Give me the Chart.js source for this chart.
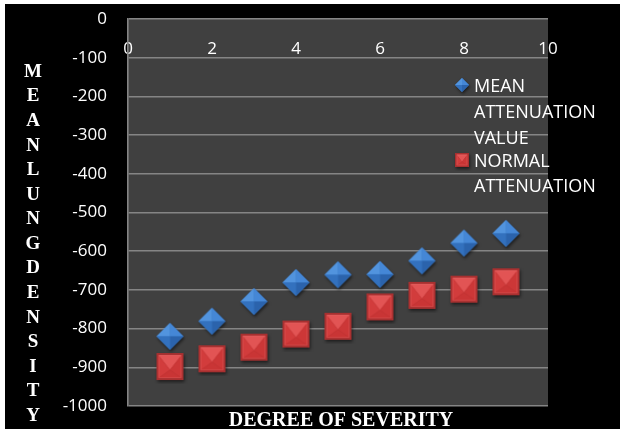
<!DOCTYPE html>
<html>
<head>
<meta charset="utf-8">
<script src="https://cdn.jsdelivr.net/npm/chart.js@4/dist/chart.umd.min.js"></script>
<style>
  html, body { margin: 0; padding: 0; background: #ffffff; }
  #wrap { position: absolute; left: 5px; top: 4px; width: 615px; height: 425px; background: #000000; }
  canvas { display: block; }
</style>
</head>
<body>
<div id="wrap"><canvas id="c" width="615" height="425"></canvas></div>
<script>
// Degree of severity (x) against mean lung density (HU)
const severity = [1, 2, 3, 4, 5, 6, 7, 8, 9];
const meanAttenuation = [-820, -781, -730, -681, -661, -660, -625, -579, -554];
const normalAttenuation = [-898, -878, -848, -814, -794, -744, -714, -698, -679];
const meanLabel = ['MEAN', 'ATTENUATION', 'VALUE'];
const normalLabel = ['NORMAL', 'ATTENUATION'];
const yTitle = 'MEANLUNGDENSITY';
const xTitle = 'DEGREE OF SEVERITY';

// Bevelled marker sprites
function diamondSprite(size) {
  const pad = 4, W = size + pad * 2;
  const cv = document.createElement('canvas');
  cv.width = W; cv.height = W;
  const g = cv.getContext('2d');
  const c = W / 2, r = size / 2;
  g.save();
  g.shadowColor = 'rgba(0,0,0,0.55)';
  g.shadowBlur = 3; g.shadowOffsetX = 1; g.shadowOffsetY = 2;
  g.beginPath();
  g.moveTo(c, c - r); g.lineTo(c + r, c); g.lineTo(c, c + r); g.lineTo(c - r, c); g.closePath();
  g.fillStyle = '#3b78c2'; g.fill();
  g.restore();
  const facets = [
    [[c, c - r], [c - r, c], '#5294de'],
    [[c, c - r], [c + r, c], '#4587d6'],
    [[c - r, c], [c, c + r], '#3371be'],
    [[c + r, c], [c, c + r], '#2b63ac']
  ];
  facets.forEach(([a, b, col]) => {
    g.beginPath(); g.moveTo(c, c); g.lineTo(a[0], a[1]); g.lineTo(b[0], b[1]); g.closePath();
    g.fillStyle = col; g.fill();
  });
  return cv;
}

function squareSprite(size) {
  const pad = 4, W = size + pad * 2;
  const cv = document.createElement('canvas');
  cv.width = W; cv.height = W;
  const g = cv.getContext('2d');
  const x0 = pad, y0 = pad, x1 = pad + size, y1 = pad + size, c = W / 2;
  g.save();
  g.shadowColor = 'rgba(0,0,0,0.55)';
  g.shadowBlur = 3; g.shadowOffsetX = 1; g.shadowOffsetY = 2;
  g.fillStyle = '#a83030';
  g.fillRect(x0, y0, size, size);
  g.restore();
  const b = Math.max(1.5, size * 0.07);
  const ix0 = x0 + b, iy0 = y0 + b, ix1 = x1 - b, iy1 = y1 - b;
  const apexY = c + size * 0.12;
  const facets = [
    [[ix0, iy0], [ix1, iy0], '#e25454'],
    [[ix0, iy0], [ix0, iy1], '#d23c3c'],
    [[ix1, iy0], [ix1, iy1], '#cc3737'],
    [[ix0, iy1], [ix1, iy1], '#c93535']
  ];
  facets.forEach(([a, bb, col]) => {
    g.beginPath(); g.moveTo(c, apexY); g.lineTo(a[0], a[1]); g.lineTo(bb[0], bb[1]); g.closePath();
    g.fillStyle = col; g.fill();
  });
  g.strokeStyle = 'rgba(230,110,110,0.35)';
  g.lineWidth = 1;
  g.strokeRect(ix0 + 0.5, iy0 + 0.5, size - 2 * b - 1, size - 2 * b - 1);
  return cv;
}

const blueMark = diamondSprite(27);
const redMark = squareSprite(27);
const blueSmall = diamondSprite(14);
const redSmall = squareSprite(14);

const pts = (ys) => severity.map((x, i) => ({ x, y: ys[i] }));

// Titles and the multi-line legend
const decorations = {
  id: 'decorations',
  afterDraw(chart) {
    const ctx = chart.ctx;
    const area = chart.chartArea;
    ctx.save();
    ctx.fillStyle = '#ffffff';
    ctx.textAlign = 'center';
    ctx.textBaseline = 'middle';
    ctx.font = 'bold 19px "Liberation Serif", "Times New Roman", serif';
    const letters = yTitle.split('');
    const top = 68, step = 24.57;
    letters.forEach((ch, i) => ctx.fillText(ch, 28, top + i * step));

    ctx.font = 'bold 20px "Liberation Serif", "Times New Roman", serif';
    ctx.fillText(xTitle, (area.left + area.right) / 2 + 3, 417);

    ctx.textAlign = 'left';
    ctx.font = '18px "Open Sans", sans-serif';
    const lx = 469;
    const sets = [
      { mark: blueSmall, y: 81, lines: meanLabel, gap: 26 },
      { mark: redSmall, y: 156, lines: normalLabel, gap: 25 }
    ];
    sets.forEach(s => {
      ctx.drawImage(s.mark, 457 - s.mark.width / 2, s.y - s.mark.height / 2);
      s.lines.forEach((t, i) => ctx.fillText(t, lx, s.y + 2 + i * s.gap));
    });
    ctx.restore();
  }
};

const tickFont = { family: '"Open Sans", sans-serif', size: 17 };

new Chart(document.getElementById('c'), {
  type: 'scatter',
  data: {
    datasets: [
      { label: meanLabel.join(' '), data: pts(meanAttenuation), pointStyle: blueMark, pointRadius: 14, pointHoverRadius: 14 },
      { label: normalLabel.join(' '), data: pts(normalAttenuation), pointStyle: redMark, pointRadius: 14, pointHoverRadius: 14 }
    ]
  },
  options: {
    responsive: false,
    animation: false,
    events: [],
    layout: { padding: { left: 0, top: 0, right: 72, bottom: 23 } },
    plugins: { legend: { display: false }, tooltip: { enabled: false } },
    scales: {
      x: {
        type: 'linear',
        position: 'top',
        min: 0, max: 10,
        grid: { display: false, drawTicks: false },
        border: { display: false },
        ticks: { stepSize: 2, mirror: true, padding: 20, color: '#ffffff', font: tickFont },
        afterFit(scale) {
          scale.height = 13;
          scale.paddingLeft = 0; scale.paddingRight = 0;
        }
      },
      y: {
        min: -1000, max: 0,
        grid: { color: '#858585', lineWidth: 1.6, drawTicks: false },
        border: { display: true, color: '#858585', width: 1.6 },
        ticks: { stepSize: 100, padding: 21, color: '#ffffff', font: tickFont, callback: (v) => String(v) },
        afterFit(scale) {
          scale.width = 123;
          scale.paddingTop = 0; scale.paddingBottom = 0;
        }
      }
    }
  },
  plugins: [{
    id: 'plotBg',
    beforeDraw(chart) {
      const a = chart.chartArea, ctx = chart.ctx;
      ctx.save();
      ctx.fillStyle = '#404040';
      ctx.fillRect(a.left, a.top, a.right - a.left, a.bottom - a.top);
      ctx.restore();
    }
  }, decorations]
});
</script>
</body>
</html>
